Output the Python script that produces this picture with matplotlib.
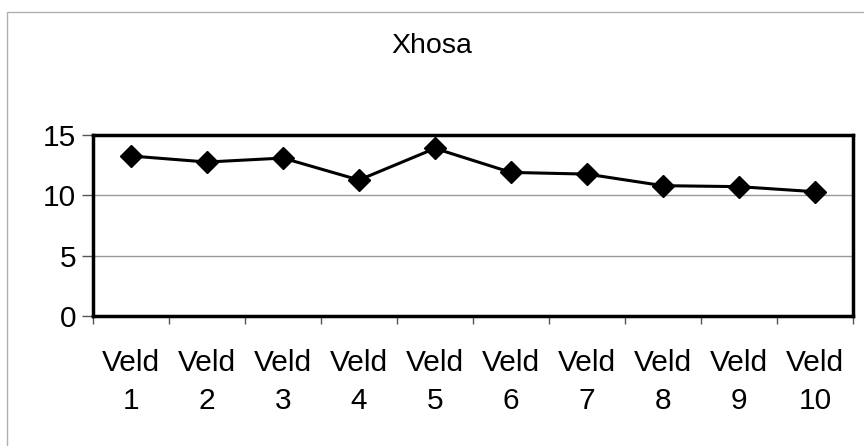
import matplotlib
matplotlib.use('Agg')
import matplotlib.pyplot as plt
from matplotlib.patches import Rectangle
import numpy as np

plt.rcParams['font.family'] = ['Liberation Sans', 'DejaVu Sans']

categories = ['Veld\n1', 'Veld\n2', 'Veld\n3', 'Veld\n4', 'Veld\n5',
              'Veld\n6', 'Veld\n7', 'Veld\n8', 'Veld\n9', 'Veld\n10']
values = [13.26, 12.76, 13.09, 11.27, 13.89, 11.9, 11.76, 10.8, 10.72, 10.3]
y_ticks = [0, 5, 10, 15]

fig = plt.figure(figsize=(8.64, 4.46), dpi=100)
# outer chart frame (only top and left edges visible in the scan)
fig.patches.append(Rectangle((7/864, -0.1), 1.2, 1.1 - 12/446,
                             transform=fig.transFigure, fill=False,
                             edgecolor='#b0b0b0', lw=1))

ax = fig.add_axes([93/864, 1-316/446, 760/864, 181/446])
x = np.arange(1, len(values) + 1)
ax.plot(x, values, color='black', lw=2.2, marker='D', markersize=11,
        markerfacecolor='black', markeredgecolor='black', zorder=3)

ax.set_xlim(0.5, len(values) + 0.5)
ax.set_ylim(0, 15)
ax.set_yticks(y_ticks)
ax.set_xticks(x)
ax.set_xticklabels(categories, linespacing=1.45)
ax.set_xticks(np.arange(0.5, len(values) + 1, 1), minor=True)
ax.tick_params(axis='x', which='major', length=0, pad=24, labelsize=21.5)
ax.tick_params(axis='x', which='minor', length=6, width=1, direction='out', color='#555555')
ax.tick_params(axis='y', length=8, width=1, direction='out', labelsize=21.5, pad=4, color='#555555')

ax.grid(axis='y', color='#999999', lw=1)
ax.set_axisbelow(True)
for s in ax.spines.values():
    s.set_linewidth(2.5)
    s.set_color('black')

fig.text(0.5, 1-46/446, 'Xhosa', ha='center', va='center', fontsize=20.5)

fig.savefig('out.png', dpi=100)
